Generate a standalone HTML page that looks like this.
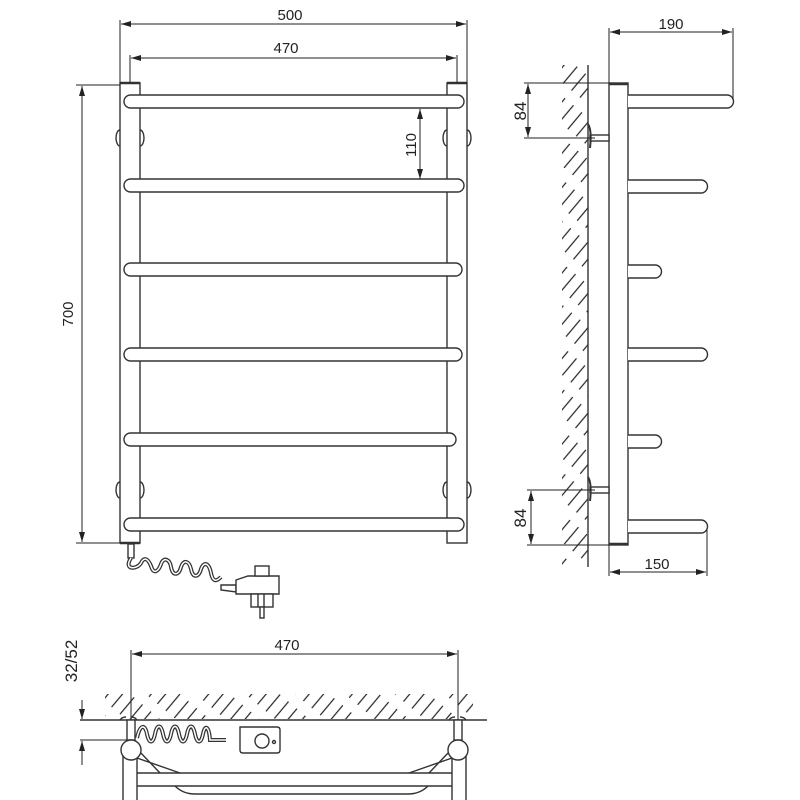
<!DOCTYPE html>
<html><head><style>html,body{margin:0;padding:0;background:#fff}svg{display:block}</style></head>
<body>
<svg width="800" height="800" viewBox="0 0 800 800" xmlns="http://www.w3.org/2000/svg" font-family="Liberation Sans, sans-serif">
<defs>
<marker id="a" viewBox="0 0 10 6" refX="10" refY="3" markerWidth="10" markerHeight="6" orient="auto-start-reverse" markerUnits="userSpaceOnUse"><path d="M0,0 L10,3 L0,6z" fill="#222"/></marker>
<pattern id="h" width="11" height="32" patternUnits="userSpaceOnUse" patternTransform="rotate(40)"><line x1="1" y1="0" x2="1" y2="22" stroke="#222" stroke-width="1.2"/></pattern>
</defs>
<g fill="none" stroke="#333" stroke-width="1.4">
<rect x="120" y="83" width="20" height="460" fill="#fff"/>
<rect x="447" y="83" width="20" height="460" fill="#fff"/>
<line x1="120" y1="83" x2="140" y2="83" stroke-width="2.5"/>
<line x1="447" y1="83" x2="467" y2="83" stroke-width="2.5"/>
<line x1="120" y1="543" x2="140" y2="543" stroke-width="2.5"/>
<g fill="#fff">
<rect x="124" y="95" width="340" height="13" rx="6.5"/>
<rect x="124" y="179" width="340" height="13" rx="6.5"/>
<rect x="124" y="263" width="338" height="13" rx="6.5"/>
<rect x="124" y="348" width="338" height="13" rx="6.5"/>
<rect x="124" y="433" width="332" height="13" rx="6.5"/>
<rect x="124" y="518" width="340" height="13" rx="6.5"/>
</g>
<path d="M120 130 a4 8 0 0 0 0 16 M140 130 a4 8 0 0 1 0 16 M447 130 a4 8 0 0 0 0 16 M467 130 a4 8 0 0 1 0 16"/>
<path d="M120 482 a4 8 0 0 0 0 16 M140 482 a4 8 0 0 1 0 16 M447 482 a4 8 0 0 0 0 16 M467 482 a4 8 0 0 1 0 16"/>
<g stroke="#222" stroke-width="1">
<line x1="120" y1="20" x2="120" y2="83"/><line x1="467" y1="20" x2="467" y2="83"/>
<line x1="121" y1="24" x2="466" y2="24" marker-start="url(#a)" marker-end="url(#a)"/>
<line x1="130" y1="55" x2="130" y2="83"/><line x1="457" y1="55" x2="457" y2="83"/>
<line x1="131" y1="58" x2="456" y2="58" marker-start="url(#a)" marker-end="url(#a)"/>
<line x1="76" y1="85" x2="120" y2="85"/><line x1="76" y1="543" x2="120" y2="543"/>
<line x1="82" y1="86" x2="82" y2="542" marker-start="url(#a)" marker-end="url(#a)"/>
<line x1="420" y1="109" x2="420" y2="179" marker-start="url(#a)" marker-end="url(#a)"/>
</g>
<rect x="128" y="544" width="6" height="14"/>
<path d="M131 558 c-8 12 6 12 10 5 c4 -8 8 -2 10 3 c3 10 8 4 10 -2 c3 -8 9 -4 10 3 c2 10 8 8 10 0 c3 -8 8 -6 10 2 c2 10 8 8 10 0 c3 -8 8 -6 10 4 c2 10 6 8 10 4" stroke-width="4"/>
<path d="M131 558 c-8 12 6 12 10 5 c4 -8 8 -2 10 3 c3 10 8 4 10 -2 c3 -8 9 -4 10 3 c2 10 8 8 10 0 c3 -8 8 -6 10 2 c2 10 8 8 10 0 c3 -8 8 -6 10 4 c2 10 6 8 10 4" stroke="#fff" stroke-width="1.5"/>
<path d="M221 585 L236 585 L236 592 L221 590z" fill="#fff"/>
<path d="M236 580 L248 576 L279 576 L279 594 L236 594z" fill="#fff"/>
<rect x="255" y="566" width="14" height="10" fill="#fff"/>
<rect x="251" y="594" width="22" height="13" fill="#fff"/>
<line x1="258" y1="594" x2="258" y2="607"/><line x1="264" y1="594" x2="264" y2="607"/>
<rect x="260" y="607" width="4" height="11" fill="#fff"/>
<rect x="562" y="65" width="26" height="500" fill="url(#h)" stroke="none"/>
<line x1="588" y1="65" x2="588" y2="567"/>
<rect x="609" y="83" width="19" height="462" fill="#fff"/>
<line x1="609" y1="84" x2="628" y2="84" stroke-width="2.5"/>
<line x1="609" y1="544" x2="628" y2="544" stroke-width="2.5"/>
<g fill="#fff">
<path d="M628 95 H727 a6.5 6.5 0 0 1 0 13 H628"/>
<path d="M628 180 H701 a6.5 6.5 0 0 1 0 13 H628"/>
<path d="M628 265 H655 a6.5 6.5 0 0 1 0 13 H628"/>
<path d="M628 348 H701 a6.5 6.5 0 0 1 0 13 H628"/>
<path d="M628 435 H655 a6.5 6.5 0 0 1 0 13 H628"/>
<path d="M628 520 H701 a6.5 6.5 0 0 1 0 13 H628"/>
</g>
<rect x="590" y="135" width="19" height="6" fill="#fff"/>
<path d="M588 124 q4 6 2 24" stroke-width="2"/>
<rect x="590" y="487" width="19" height="6" fill="#fff"/>
<path d="M588 477 q4 6 2 24" stroke-width="2"/>
<g stroke="#222" stroke-width="1">
<line x1="609" y1="28" x2="609" y2="83"/><line x1="733" y1="28" x2="733" y2="100"/>
<line x1="610" y1="32" x2="732" y2="32" marker-start="url(#a)" marker-end="url(#a)"/>
<line x1="524" y1="83" x2="609" y2="83"/><line x1="524" y1="138" x2="595" y2="138"/>
<line x1="528" y1="84" x2="528" y2="137" marker-start="url(#a)" marker-end="url(#a)"/>
<line x1="527" y1="490" x2="595" y2="490"/><line x1="527" y1="545" x2="609" y2="545"/>
<line x1="531" y1="491" x2="531" y2="544" marker-start="url(#a)" marker-end="url(#a)"/>
<line x1="609" y1="545" x2="609" y2="576"/><line x1="707" y1="530" x2="707" y2="576"/>
<line x1="610" y1="572" x2="706" y2="572" marker-start="url(#a)" marker-end="url(#a)"/>
</g>
<rect x="105" y="694" width="368" height="25" fill="url(#h)" stroke="none"/>
<line x1="80" y1="720" x2="487" y2="720"/>
<g stroke="#222" stroke-width="1">
<line x1="131" y1="650" x2="131" y2="720"/><line x1="458" y1="650" x2="458" y2="720"/>
<line x1="132" y1="654" x2="457" y2="654" marker-start="url(#a)" marker-end="url(#a)"/>
<line x1="80" y1="740" x2="128" y2="740"/>
<line x1="82" y1="700" x2="82" y2="719" marker-end="url(#a)"/>
<line x1="82" y1="765" x2="82" y2="741" marker-end="url(#a)"/>
</g>
<rect x="127" y="720" width="8" height="20" fill="#fff"/>
<rect x="454" y="720" width="8" height="20" fill="#fff"/>
<path d="M120 720 q2 -3 6 -3 M137 720 q-2 -3 -6 -3 M449 720 q2 -3 6 -3 M466 720 q-2 -3 -6 -3"/>
<line x1="123" y1="755" x2="123" y2="800"/><line x1="137" y1="755" x2="137" y2="800"/>
<line x1="452" y1="755" x2="452" y2="800"/><line x1="466" y1="755" x2="466" y2="800"/>
<line x1="137" y1="773" x2="452" y2="773"/><line x1="137" y1="786" x2="452" y2="786"/>
<path d="M137 758 L180 773 M140 752 L160 773 M452 758 L409 773 M449 752 L429 773"/>
<path d="M175 786 q8 8 20 8 H408 q12 0 20 -8"/>
<circle cx="131" cy="750" r="10" fill="#fff"/>
<circle cx="458" cy="750" r="10" fill="#fff"/>
<path d="M137 738 c3 -14 8 -14 10 -4 c2 10 6 10 8 0 c2 -10 6 -10 8 0 c2 10 6 10 8 0 c2 -10 6 -10 8 0 c2 10 6 10 8 0 c2 -10 6 -10 8 0 c2 10 6 10 8 0 c2 -10 6 -8 7 6 h16" stroke-width="4"/>
<path d="M137 738 c3 -14 8 -14 10 -4 c2 10 6 10 8 0 c2 -10 6 -10 8 0 c2 10 6 10 8 0 c2 -10 6 -10 8 0 c2 10 6 10 8 0 c2 -10 6 -10 8 0 c2 10 6 10 8 0 c2 -10 6 -8 7 6 h16" stroke="#fff" stroke-width="1.5"/>
<path d="M240 727 H277 q3 0 3 3 V750 q0 3 -3 3 H243 q-3 0 -3 -3z" fill="#fff"/>
<circle cx="262" cy="741" r="7"/>
<circle cx="274" cy="742" r="1.5"/>
</g>
<g fill="#222" font-size="15">
<text x="290" y="20" text-anchor="middle">500</text>
<text x="286" y="53" text-anchor="middle">470</text>
<text x="287" y="650" text-anchor="middle">470</text>
<text x="671" y="29" text-anchor="middle">190</text>
<text x="657" y="569" text-anchor="middle">150</text>
<text transform="translate(73,314) rotate(-90)" text-anchor="middle">700</text>
<text transform="translate(416,145) rotate(-90)" text-anchor="middle">110</text>
<text transform="translate(526,111) rotate(-90)" text-anchor="middle" font-size="17">84</text>
<text transform="translate(526,518) rotate(-90)" text-anchor="middle" font-size="17">84</text>
<text transform="translate(77,661) rotate(-90)" text-anchor="middle" font-size="17">32/52</text>
</g>
</svg>
</body></html>
